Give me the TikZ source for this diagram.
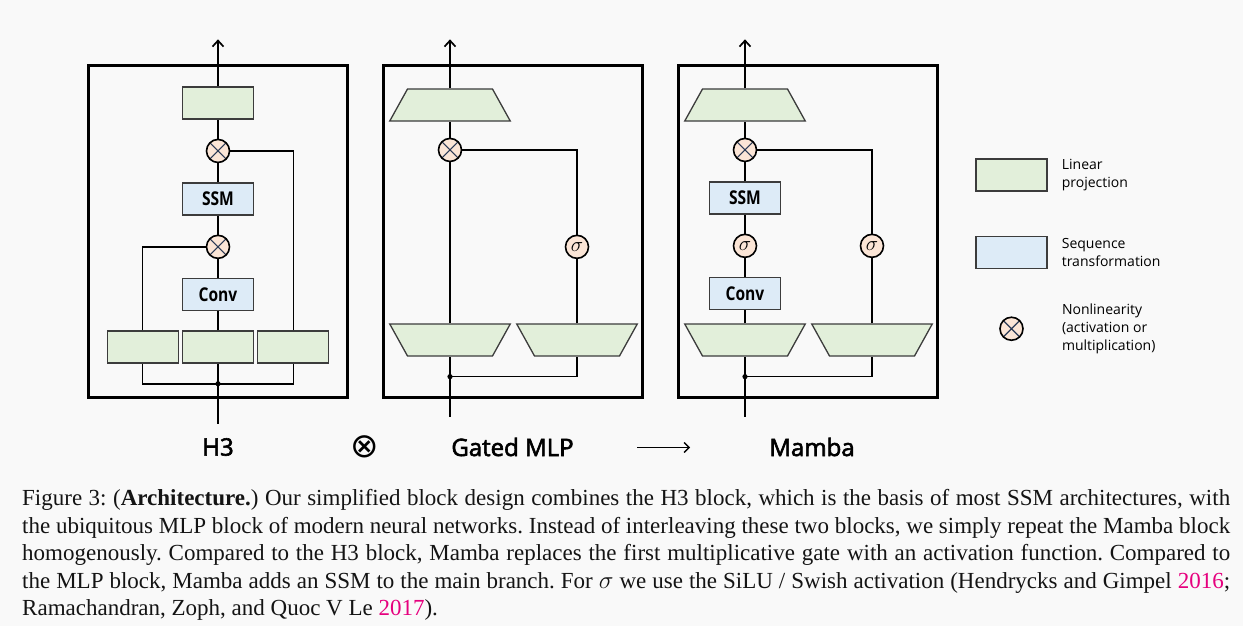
\documentclass[tikz,border=0pt]{standalone}
\usepackage{fontspec}
\usepackage{xcolor}
\usepackage{tikz}
\usetikzlibrary{
    positioning,
    arrows.meta,
    shapes.geometric,
    calc
}

\setmainfont{Liberation Serif}
\newfontfamily\diagfont{Open Sans}
\newfontfamily\namefont{Open Sans}[FakeBold=2.5]
\newfontfamily\blkfont{Open Sans}[FakeStretch=0.82]
\newfontfamily\symbfont{DejaVu Sans}

\definecolor{bggray}{HTML}{F9F9F9}
\definecolor{lingreen}{HTML}{E2EFDA}
\definecolor{seqblue}{HTML}{DDEBF7}
\definecolor{nlpeach}{HTML}{FBE5D6}
\definecolor{nodegray}{HTML}{3C3C3C}
\definecolor{xmark}{HTML}{2B3A55}
\definecolor{captext}{HTML}{141414}
\definecolor{citepink}{HTML}{E6007E}

\newcommand{\capline}[1]{\makebox[1208pt][s]{#1}}

\tikzset{
    blk_frame/.style={
        rectangle, draw=black, line width=3pt,
        minimum width=259pt, minimum height=331pt
    },
    lin_box/.style={
        rectangle, draw=nodegray, line width=1.3pt, fill=lingreen,
        minimum width=71pt, minimum height=32pt, inner sep=0pt
    },
    seq_box/.style={
        lin_box, fill=seqblue,
        font=\blkfont\bfseries\fontsize{19}{20}\selectfont
    },
    proj_up/.style={
        trapezium, trapezium left angle=61, trapezium right angle=61,
        draw=nodegray, line width=1.3pt, fill=lingreen,
        inner xsep=42.5pt, inner ysep=16pt, minimum width=0pt, minimum height=0pt
    },
    proj_down/.style={
        proj_up, shape border rotate=180
    },
    nl_op/.style={
        circle, draw=black, line width=1.6pt, fill=nlpeach,
        minimum size=23pt, inner sep=0pt, font=\fontsize{21}{21}\selectfont
    },
    mult/.style={
        path picture={
            \draw[line width=1.1pt, draw=xmark]
                (path picture bounding box.north west) -- (path picture bounding box.south east)
                (path picture bounding box.north east) -- (path picture bounding box.south west);
        }
    },
    wire/.style={draw=black, line width=1.7pt},
    arrow/.style={wire, -{Straight Barb[length=6pt, width=11pt]}},
    blk_label/.style={font=\namefont\fontsize{24}{26}\selectfont, inner sep=0pt},
    leg_text/.style={anchor=west, align=left, inner sep=0pt,
        font=\diagfont\fontsize{14}{18}\selectfont},
    cap_text/.style={anchor=base west, inner sep=0pt,
        font=\frenchspacing\fontsize{23}{27.5}\selectfont, text=captext}
}

\begin{document}
\begin{tikzpicture}[x=1pt, y=-1pt]

    \path[use as bounding box, fill=bggray] (0,0) rectangle (1243,626);

    % --- H3 BLOCK ---
    \node[blk_frame] (h3_frame) at (217.5,231.5) {};
    \node[lin_box] (h3_out) at (218,103) {};
    \node[nl_op, mult, below=19pt of h3_out] (h3_mul2) {};
    \node[seq_box, below=19pt of h3_mul2] (h3_ssm) {SSM};
    \node[nl_op, mult, below=19pt of h3_ssm] (h3_mul1) {};
    \node[seq_box, below=19pt of h3_mul1] (h3_conv) {Conv};
    \node[lin_box, below=19pt of h3_conv] (h3_p2) {};
    \node[lin_box, left=3pt of h3_p2] (h3_p1) {};
    \node[lin_box, right=3pt of h3_p2] (h3_p3) {};
    \coordinate[below=20pt of h3_p2] (h3_bus);
    \coordinate[below=40pt of h3_bus] (h3_in);
    \coordinate[above=47pt of h3_out] (h3_top);

    \draw[wire] (h3_in) -- (h3_bus) -- (h3_p2);
    \draw[wire, line width=1.5pt] (h3_p1.south) |- (h3_bus) -| (h3_p3.south);
    \fill (h3_bus) circle (2.6);
    \draw[wire] (h3_p2) -- (h3_conv);
    \draw[wire] (h3_conv) -- (h3_mul1);
    \draw[wire] (h3_mul1) -- (h3_ssm);
    \draw[wire] (h3_ssm) -- (h3_mul2);
    \draw[wire] (h3_mul2) -- (h3_out);
    \draw[arrow] (h3_out) -- (h3_top);
    \draw[wire, line width=1.5pt] (h3_p1.north) |- (h3_mul1.west);
    \draw[wire, line width=1.5pt] (h3_p3.north) |- (h3_mul2.east);

    % --- GATED MLP BLOCK ---
    \node[blk_frame] (mlp_frame) at (512.5,231.5) {};
    \node[proj_up] (mlp_out) at (450,105) {};
    \node[nl_op, mult, below=16pt of mlp_out] (mlp_mul) {};
    \node[proj_down] (mlp_p1) at (450,340) {};
    \node[proj_down] (mlp_p2) at (577,340) {};
    \node[nl_op] (mlp_act) at (mlp_p2 |- h3_mul1) {$\sigma$};
    \coordinate[below=20pt of mlp_p1] (mlp_bus);
    \coordinate[below=40pt of mlp_bus] (mlp_in);
    \coordinate[above=49pt of mlp_out] (mlp_top);

    \draw[wire] (mlp_in) -- (mlp_bus) -- (mlp_p1);
    \draw[wire, line width=1.5pt] (mlp_bus) -| (mlp_p2.south);
    \fill (mlp_bus) circle (2.6);
    \draw[wire] (mlp_p1) -- (mlp_mul);
    \draw[wire] (mlp_mul) -- (mlp_out);
    \draw[arrow] (mlp_out) -- (mlp_top);
    \draw[wire, line width=1.5pt] (mlp_p2) -- (mlp_act);
    \draw[wire, line width=1.5pt] (mlp_act) |- (mlp_mul.east);

    % --- MAMBA BLOCK ---
    \node[blk_frame] (mb_frame) at (807.5,231.5) {};
    \node[proj_up] (mb_out) at (745,105) {};
    \node[nl_op, mult, below=16pt of mb_out] (mb_mul) {};
    \node[seq_box, below=19pt of mb_mul] (mb_ssm) {SSM};
    \node[nl_op, below=19pt of mb_ssm] (mb_act1) {$\sigma$};
    \node[seq_box, below=19pt of mb_act1] (mb_conv) {Conv};
    \node[proj_down] (mb_p1) at (745,340) {};
    \node[proj_down] (mb_p2) at (872,340) {};
    \node[nl_op] (mb_act2) at (mb_p2 |- mb_act1) {$\sigma$};
    \coordinate[below=20pt of mb_p1] (mb_bus);
    \coordinate[below=40pt of mb_bus] (mb_in);
    \coordinate[above=49pt of mb_out] (mb_top);

    \draw[wire] (mb_in) -- (mb_bus) -- (mb_p1);
    \draw[wire, line width=1.5pt] (mb_bus) -| (mb_p2.south);
    \fill (mb_bus) circle (2.6);
    \draw[wire] (mb_p1) -- (mb_conv);
    \draw[wire] (mb_conv) -- (mb_act1);
    \draw[wire] (mb_act1) -- (mb_ssm);
    \draw[wire] (mb_ssm) -- (mb_mul);
    \draw[wire] (mb_mul) -- (mb_out);
    \draw[arrow] (mb_out) -- (mb_top);
    \draw[wire, line width=1.5pt] (mb_p2) -- (mb_act2);
    \draw[wire, line width=1.5pt] (mb_act2) |- (mb_mul.east);

    % --- NAMES ---
    \node[blk_label] (h3_name) at (218,447) {H3};
    \node[blk_label, font=\symbfont\fontsize{34}{34}\selectfont] (op_combine) at (365,447) {⊗};
    \node[blk_label] (mlp_name) at (512.5,447) {Gated MLP};
    \node[blk_label] (mb_name) at (812,447) {Mamba};
    \coordinate (arr_from) at (637,447.5);
    \coordinate (arr_to) at (690,447.5);
    \draw[wire, line width=1.3pt, -{Straight Barb[length=5pt, width=10pt]}] (arr_from) -- (arr_to);

    % --- LEGEND ---
    \node[lin_box] (leg_lin) at (1011.5,175) {};
    \node[lin_box, fill=seqblue, below=44pt of leg_lin] (leg_seq) {};
    \node[nl_op, mult, below=47.5pt of leg_seq] (leg_nl) {};
    \node[leg_text, right=14pt of leg_lin] (leg_lin_txt) {Linear\\projection};
    \node[leg_text, right=14pt of leg_seq] (leg_seq_txt) {Sequence\\transformation};
    \node[leg_text, right=38pt of leg_nl] (leg_nl_txt) {Nonlinearity\\(activation or\\multiplication)};

    % --- CAPTION ---
    \node[cap_text] (cap1) at (22,505.7) {\capline{Figure 3: (\textbf{Architecture.}) Our simplified block design combines the H3 block, which is the basis of most SSM architectures, with}};
    \node[cap_text] (cap2) at (22,533.2) {\capline{the ubiquitous MLP block of modern neural networks. Instead of interleaving these two blocks, we simply repeat the Mamba block}};
    \node[cap_text] (cap3) at (22,560.7) {\capline{homogenously. Compared to the H3 block, Mamba replaces the first multiplicative gate with an activation function. Compared to}};
    \node[cap_text] (cap4) at (22,588.2) {\capline{the MLP block, Mamba adds an SSM to the main branch. For $\sigma$ we use the SiLU / Swish activation (Hendrycks and Gimpel \textcolor{citepink}{2016};}};
    \node[cap_text] (cap5) at (22,615.7) {Ramachandran, Zoph, and Quoc V Le \textcolor{citepink}{2017}).};

\end{tikzpicture}
\end{document}
